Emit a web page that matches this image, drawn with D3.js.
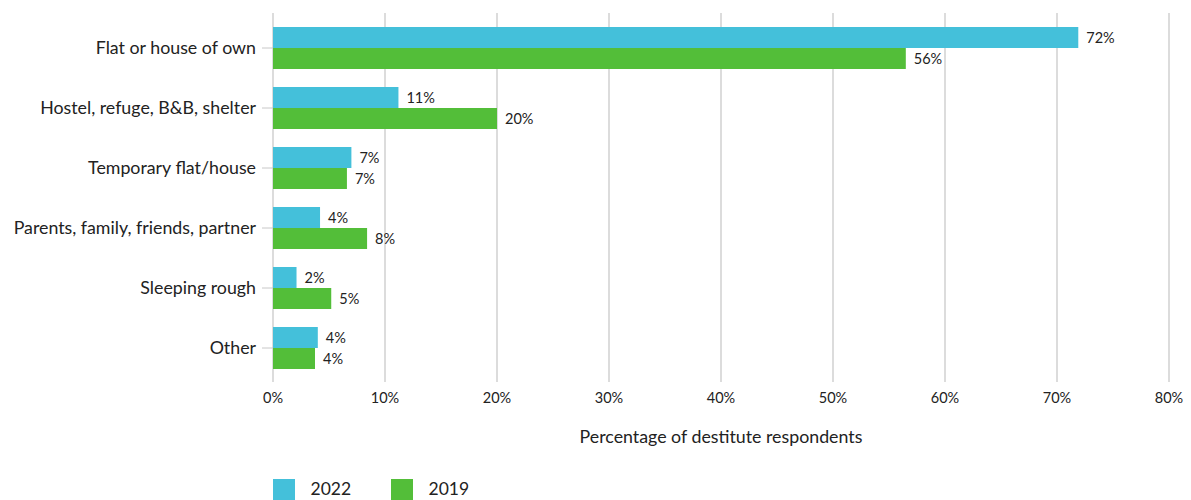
<!DOCTYPE html>
<html><head><meta charset="utf-8">
<script src="https://cdn.jsdelivr.net/npm/d3@7"></script>
<style>
body{margin:0;background:#fff;}
text{font-family:Lato,"Open Sans",sans-serif;fill:#222;}
</style></head>
<body><svg id="c" width="1191" height="500"></svg>
<script>
const categories = ["Flat or house of own","Hostel, refuge, B&B, shelter","Temporary flat/house","Parents, family, friends, partner","Sleeping rough","Other"];
const values2022 = [71.9, 11.2, 7.0, 4.2, 2.1, 4.0];
const values2019 = [56.5, 20.0, 6.6, 8.4, 5.2, 3.75];
const labels2022 = ["72%","11%","7%","4%","2%","4%"];
const labels2019 = ["56%","20%","7%","8%","5%","4%"];
const seriesNames = ["2022","2019"];
const colors = ["#44C0DA","#53BE39"];
const xTicks = [0,10,20,30,40,50,60,70,80];

const svg = d3.select("#c");
const x = d3.scaleLinear().domain([0,80]).range([273,1169]);
const y = d3.scaleBand().domain(categories).range([18,378]).paddingInner(0.3).paddingOuter(0.15);
const sub = d3.scaleBand().domain(seriesNames).range([0,y.bandwidth()]);

// gridlines
svg.append("g").selectAll("line").data(xTicks).join("line")
  .attr("x1",d=>x(d)).attr("x2",d=>x(d)).attr("y1",13).attr("y2",382)
  .attr("stroke","#dcdcdc").attr("stroke-width",2);

// x tick labels
svg.append("g").selectAll("text").data(xTicks).join("text")
  .attr("x",d=>x(d)).attr("y",403).attr("text-anchor","middle")
  .style("font-size","14.5px").text(d=>d+"%");

// y axis
const yAxis = d3.axisLeft(y).tickSize(11).tickPadding(6);
const ga = svg.append("g").attr("transform","translate(273,0)").call(yAxis);
ga.select(".domain").remove();
ga.selectAll(".tick line").attr("stroke","#c8c8c8");
ga.selectAll(".tick text").style("font-size","17.8px").style("font-family","Lato,'Open Sans',sans-serif").attr("fill","#222");

const data = categories.map((c,i)=>({c, vals:[values2022[i],values2019[i]], labs:[labels2022[i],labels2019[i]]}));
const g = svg.append("g");
data.forEach(d=>{
  seriesNames.forEach((s,j)=>{
    const y0 = y(d.c)+sub(s);
    g.append("rect").attr("x",x(0)).attr("y",y0).attr("width",x(d.vals[j])-x(0)).attr("height",sub.bandwidth()).attr("fill",colors[j]);
    g.append("text").attr("x",x(d.vals[j])+8).attr("y",y0+sub.bandwidth()/2).attr("dy","0.35em")
      .style("font-size","14.5px").text(d.labs[j]);
  });
});

// axis title
svg.append("text").attr("x",721).attr("y",443).attr("text-anchor","middle").style("font-size","17.8px").text("Percentage of destitute respondents");

// legend
const lg = svg.append("g");
const lx = [273,391];
seriesNames.forEach((s,j)=>{
  lg.append("rect").attr("x",lx[j]).attr("y",479).attr("width",22).attr("height",21).attr("fill",colors[j]);
  lg.append("text").attr("x",lx[j]+37.5).attr("y",489).attr("dy","0.35em").style("font-size","17.5px").text(s);
});
</script></body></html>
